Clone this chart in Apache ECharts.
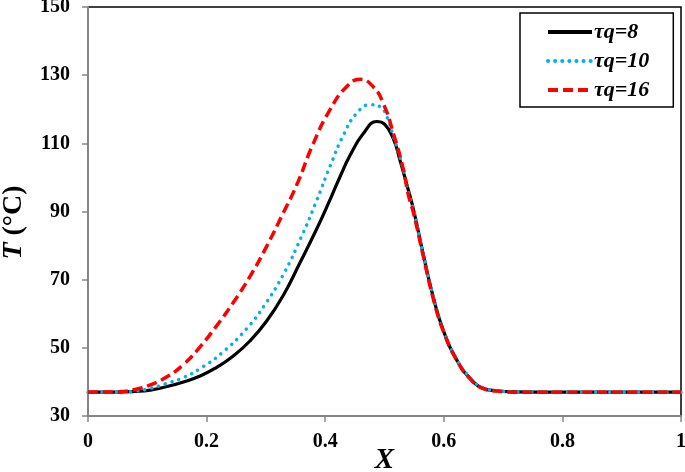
<!DOCTYPE html>
<html><head><meta charset="utf-8">
<script src="https://cdn.jsdelivr.net/npm/echarts@6/dist/echarts.min.js"></script>
<style>html,body{margin:0;padding:0;background:#fff}#c{width:685px;height:472px}</style>
</head><body><div id="c"></div>
<script>
var seriesNames = ['τq=8', 'τq=10', 'τq=16'];
var xBlack = [0,0.05,0.08,0.105,0.13,0.161,0.19,0.217,0.245,0.273,0.301,0.329,0.357,0.386,0.408,0.425,0.442,0.464,0.487,0.5,0.515,0.526,0.537,0.549,0.565,0.582,0.599,0.622,0.644,0.667,0.69,0.717,0.8,0.9,1];
var tBlack = [37,37,37.2,37.6,38.5,40.0,41.8,44.3,47.6,52.0,57.8,65.3,74.8,85.0,93.4,100.2,106.5,112.8,116.4,115.6,111.3,105.1,98.3,90.5,77.7,65.0,55.2,46.4,41.1,38.1,37.4,37.1,37,37,37];
var xBlue = [0,0.05,0.08,0.105,0.13,0.161,0.19,0.225,0.268,0.298,0.329,0.36,0.386,0.408,0.431,0.453,0.476,0.492,0.504,0.515,0.529,0.54,0.549,0.565,0.582,0.599,0.622,0.644,0.667,0.69,0.717,0.8,0.9,1];
var tBlue = [37,37,37.3,38.1,39.4,41.3,44.0,48.4,55.7,62.6,71.4,82.6,93.4,103.2,112.5,118.8,121.3,120.8,117.8,112.0,104.1,96.0,90.5,77.7,65.3,55.4,46.6,41.3,38.2,37.4,37.1,37,37,37];
var xRed = [0,0.05,0.08,0.105,0.133,0.161,0.189,0.217,0.245,0.273,0.301,0.329,0.352,0.38,0.408,0.436,0.459,0.481,0.498,0.515,0.532,0.54,0.549,0.565,0.582,0.599,0.622,0.644,0.667,0.69,0.717,0.8,0.9,1];
var tRed = [37,37.1,37.8,39.1,41.5,45.1,50.3,56.5,63.3,70.9,79.7,89.5,97.8,110.0,119.8,126.6,128.8,126.6,121.7,112.9,102.2,95.0,89.5,77.2,64.6,55.0,46.3,41.0,38.0,37.3,37.0,37,37,37];

function pairs(xs, ys) { return xs.map(function (x, i) { return [x, ys[i]]; }); }
var FONT = "'Liberation Serif', 'Times New Roman', serif";
var chart = echarts.init(document.getElementById('c'), null, {renderer: 'canvas'});
chart.setOption({
  animation: false,
  backgroundColor: '#fff',
  grid: {left: 88, top: 7, right: 4, bottom: 56, containLabel: false, outerBoundsMode: 'none',
         show: true, borderColor: '#000', borderWidth: 1.5, backgroundColor: 'transparent'},
  xAxis: {
    type: 'value', min: 0, max: 1, interval: 0.2,
    name: 'X', nameLocation: 'middle', nameGap: 30, nameMoveOverlap: false,
    nameTextStyle: {fontFamily: FONT, fontSize: 29, fontWeight: 'bold', fontStyle: 'italic', color: '#000', verticalAlign: 'top'},
    axisLine: {show: true, lineStyle: {color: '#868686', width: 2}},
    axisTick: {show: true, inside: false, length: 6, lineStyle: {color: '#868686', width: 1.5}},
    axisLabel: {fontFamily: FONT, fontSize: 20, fontWeight: 'bold', color: '#000', margin: 16},
    splitLine: {show: false}
  },
  yAxis: {
    type: 'value', min: 30, max: 150, interval: 20,
    name: '{i|T} {n|(°C)}', nameLocation: 'middle', nameGap: 60, nameRotate: 90, nameMoveOverlap: false,
    nameTextStyle: {fontFamily: FONT, fontSize: 28, fontWeight: 'bold', color: '#000', padding: [0, 22, 0, 0],
      rich: {i: {fontFamily: FONT, fontSize: 28, fontWeight: 'bold', fontStyle: 'italic', color: '#000'},
             n: {fontFamily: FONT, fontSize: 28, fontWeight: 'bold', color: '#000'}}},
    axisLine: {show: true, lineStyle: {color: '#868686', width: 2}},
    axisTick: {show: true, inside: false, length: 6, lineStyle: {color: '#868686', width: 1.5}},
    axisLabel: {fontFamily: FONT, fontSize: 20, fontWeight: 'bold', color: '#000', margin: 18},
    splitLine: {show: false}
  },
  legend: {
    orient: 'vertical', left: 520, top: 13,
    padding: [8, 24, 6, 26], itemGap: 7, itemWidth: 44, itemHeight: 22,
    borderColor: '#000', borderWidth: 1.5, backgroundColor: '#fff',
    itemStyle: {opacity: 0},
    lineStyle: {width: 4},
    textStyle: {fontFamily: FONT, fontSize: 22, fontWeight: 'bold', fontStyle: 'italic', color: '#000', padding: [0, 0, 0, -3]},
    data: seriesNames
  },
  series: [
    {name: seriesNames[0], type: 'line', data: pairs(xBlack, tBlack), symbol: 'none', smooth: 0.5,
     lineStyle: {color: '#000', width: 3.2}, itemStyle: {color: '#000'}, z: 2},
    {name: seriesNames[1], type: 'line', data: pairs(xBlue, tBlue), symbol: 'none', smooth: 0.5,
     lineStyle: {color: '#00B0F0', width: 3.5, type: [0.1, 7], cap: 'round'}, itemStyle: {color: '#00B0F0'}, z: 3},
    {name: seriesNames[2], type: 'line', data: pairs(xRed, tRed), symbol: 'none', smooth: 0.5,
     lineStyle: {color: '#FF0000', width: 3.5, type: [10, 5]}, itemStyle: {color: '#FF0000'}, z: 4}
  ]
});
</script>
</body></html>
